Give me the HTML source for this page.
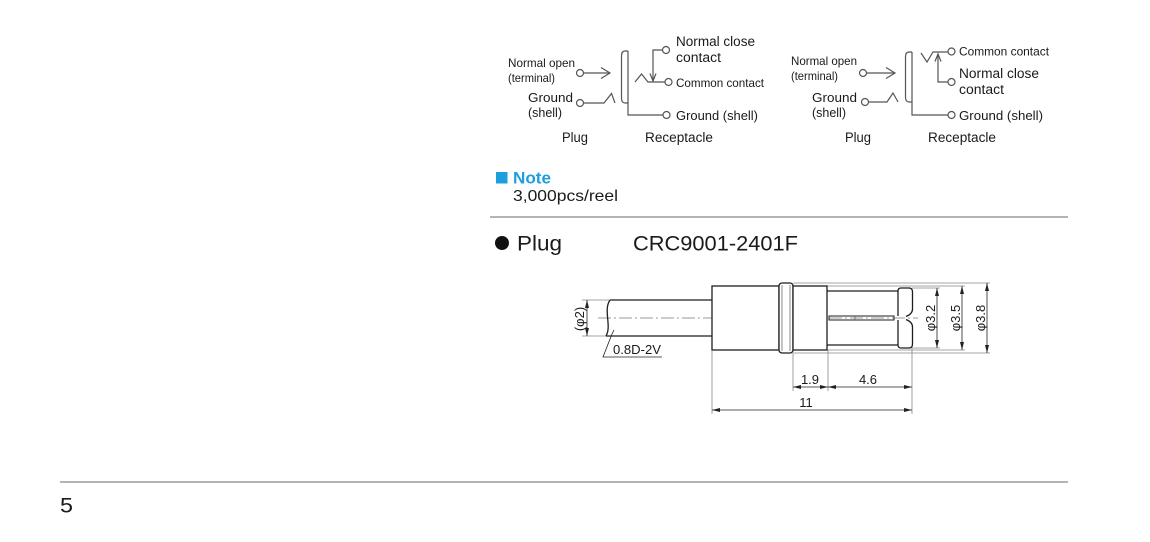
<!DOCTYPE html>
<html>
<head>
<meta charset="utf-8">
<style>
html,body{margin:0;padding:0;background:#fff;}
body{width:1150px;height:542px;overflow:hidden;}
svg{display:block;}
text{font-family:"Liberation Sans",Arial,sans-serif;fill:#1a1a1a;}
</style>
</head>
<body>
<svg width="1150" height="542" viewBox="0 0 1150 542" xmlns="http://www.w3.org/2000/svg">
<defs>
<marker id="a" viewBox="0 0 8 4" refX="8" refY="2" markerWidth="8" markerHeight="4" markerUnits="userSpaceOnUse" orient="auto-start-reverse">
<path d="M0,0 L8,2 L0,4 z" fill="#222"/>
</marker>
</defs>

<!-- ============ Diagram 1 ============ -->
<g stroke="#555" stroke-width="1.2" fill="none">
  <circle cx="580" cy="73" r="3.5" fill="#fff"/>
  <line x1="583.5" y1="73" x2="610" y2="73"/>
  <polyline points="601,67.5 610,73 601,78.5"/>
  <circle cx="580" cy="103" r="3.5" fill="#fff"/>
  <polyline points="583.5,103 604,103 611.5,93.5 615,103"/>
  <path d="M628,51 L625,51 Q621.5,51 621.5,56 L621.5,98 Q621.5,103 625,103 L628,103"/>
  <polyline points="628,51 628,115 663,115"/>
  <circle cx="666.5" cy="115" r="3.5" fill="#fff"/>
  <circle cx="666" cy="50" r="3.5" fill="#fff"/>
  <polyline points="662.5,50 653,50 653,81"/>
  <polyline points="650,73.5 653,81 656,73.5"/>
  <polyline points="635,82 641.5,74 648,82 665,82"/>
  <circle cx="668.5" cy="82" r="3.5" fill="#fff"/>
</g>
<g font-size="12">
  <text x="508" y="67" textLength="67" lengthAdjust="spacingAndGlyphs">Normal open</text>
  <text x="508" y="82" textLength="47" lengthAdjust="spacingAndGlyphs">(terminal)</text>
  <text x="528" y="102" font-size="13" textLength="45" lengthAdjust="spacingAndGlyphs">Ground</text>
  <text x="528" y="117" font-size="13" textLength="34" lengthAdjust="spacingAndGlyphs">(shell)</text>
  <text x="676" y="46" font-size="13.5" textLength="79" lengthAdjust="spacingAndGlyphs">Normal close</text>
  <text x="676" y="62" font-size="13.5" textLength="45" lengthAdjust="spacingAndGlyphs">contact</text>
  <text x="676" y="87" textLength="88" lengthAdjust="spacingAndGlyphs">Common contact</text>
  <text x="676" y="120" font-size="13" textLength="82" lengthAdjust="spacingAndGlyphs">Ground (shell)</text>
  <text x="562" y="142" font-size="13.5" textLength="26" lengthAdjust="spacingAndGlyphs">Plug</text>
  <text x="645" y="142" font-size="13.5" textLength="68" lengthAdjust="spacingAndGlyphs">Receptacle</text>
</g>

<!-- ============ Diagram 2 ============ -->
<g stroke="#555" stroke-width="1.2" fill="none">
  <circle cx="863" cy="73" r="3.5" fill="#fff"/>
  <line x1="866.5" y1="73" x2="895" y2="73"/>
  <polyline points="886,67.5 895,73 886,78.5"/>
  <circle cx="865" cy="102" r="3.5" fill="#fff"/>
  <polyline points="868.5,102 887,102 893,93 898,102"/>
  <path d="M912,52 L909,52 Q905.5,52 905.5,57 L905.5,97 Q905.5,102 909,102 L912,102"/>
  <polyline points="912,52 912,115 948,115"/>
  <circle cx="951.5" cy="115" r="3.5" fill="#fff"/>
  <polyline points="921,53 927,62 933,52 948,52"/>
  <circle cx="951.5" cy="51.5" r="3.5" fill="#fff"/>
  <polyline points="948,82 938,82 938,54"/>
  <polyline points="935,61.5 938,54 941,61.5"/>
  <circle cx="951.5" cy="82" r="3.5" fill="#fff"/>
</g>
<g font-size="12">
  <text x="791" y="65" textLength="66" lengthAdjust="spacingAndGlyphs">Normal open</text>
  <text x="791" y="80" textLength="47" lengthAdjust="spacingAndGlyphs">(terminal)</text>
  <text x="812" y="102" font-size="13" textLength="45" lengthAdjust="spacingAndGlyphs">Ground</text>
  <text x="812" y="117" font-size="13" textLength="34" lengthAdjust="spacingAndGlyphs">(shell)</text>
  <text x="959" y="55.5" textLength="90" lengthAdjust="spacingAndGlyphs">Common contact</text>
  <text x="959" y="78" font-size="13.5" textLength="80" lengthAdjust="spacingAndGlyphs">Normal close</text>
  <text x="959" y="94" font-size="13.5" textLength="45" lengthAdjust="spacingAndGlyphs">contact</text>
  <text x="959" y="120" font-size="13" textLength="84" lengthAdjust="spacingAndGlyphs">Ground (shell)</text>
  <text x="845" y="142" font-size="13.5" textLength="26" lengthAdjust="spacingAndGlyphs">Plug</text>
  <text x="928" y="142" font-size="13.5" textLength="68" lengthAdjust="spacingAndGlyphs">Receptacle</text>
</g>

<!-- ============ Note ============ -->
<rect x="496" y="172" width="11.5" height="11.5" fill="#1c9fdc"/>
<text x="513" y="183.5" font-size="16.5" font-weight="bold" style="fill:#1c9fdc" textLength="38" lengthAdjust="spacingAndGlyphs">Note</text>
<text x="513" y="201" font-size="16" textLength="105" lengthAdjust="spacingAndGlyphs">3,000pcs/reel</text>
<line x1="490" y1="217" x2="1068" y2="217" stroke="#9a9a9a" stroke-width="1.6"/>

<!-- ============ Heading ============ -->
<circle cx="502" cy="243" r="7" fill="#111"/>
<text x="517" y="250.5" font-size="21" textLength="45" lengthAdjust="spacingAndGlyphs">Plug</text>
<text x="633" y="250.5" font-size="21" textLength="165" lengthAdjust="spacingAndGlyphs">CRC9001-2401F</text>

<!-- ============ Plug drawing ============ -->
<!-- center line -->
<line x1="598" y1="318" x2="918" y2="318" stroke="#777" stroke-width="0.8" stroke-dasharray="13 3 2 3"/>

<!-- extension lines (gray) -->
<g stroke="#888" stroke-width="0.8" fill="none">
  <line x1="582" y1="300" x2="609" y2="300"/>
  <line x1="582" y1="336" x2="606" y2="336"/>
  <line x1="793" y1="283" x2="990" y2="283"/>
  <line x1="827" y1="286" x2="965" y2="286"/>
  <line x1="912" y1="288" x2="940" y2="288"/>
  <line x1="912" y1="348" x2="940" y2="348"/>
  <line x1="827" y1="350" x2="965" y2="350"/>
  <line x1="793" y1="353" x2="990" y2="353"/>
  <line x1="712" y1="351" x2="712" y2="414"/>
  <line x1="793" y1="353" x2="793" y2="391"/>
  <line x1="828" y1="350" x2="828" y2="391"/>
  <line x1="912" y1="348" x2="912" y2="414"/>
</g>

<!-- object lines -->
<g stroke="#1e1e1e" stroke-width="1.3" fill="none">
  <!-- cable -->
  <line x1="610" y1="300" x2="712" y2="300"/>
  <line x1="606" y1="336" x2="712" y2="336"/>
  <path d="M610,300 C603,310 612,326 606,336"/>
  <!-- body -->
  <rect x="712" y="286" width="67" height="64" fill="#fff"/>
  <!-- ring -->
  <rect x="779" y="283" width="14" height="70" rx="3" fill="#fff"/>
  <!-- segment 2 -->
  <rect x="793" y="286" width="34" height="64" fill="#fff"/>
  <!-- pin arms -->
  <line x1="827" y1="291" x2="898" y2="291"/>
  <line x1="827" y1="345" x2="898" y2="345"/>
  <rect x="829" y="316" width="65" height="4" stroke-width="1"/>
  <!-- flange -->
  <path d="M898,316 L898,291 Q898,288 901,288 L909,288 Q912.5,288 912.5,292 L912.5,309 Q912.5,314 906,316.5"/>
  <path d="M898,320 L898,345 Q898,348 901,348 L909,348 Q912.5,348 912.5,344 L912.5,327 Q912.5,322 906,319.5"/>
</g>
<g stroke="#555" stroke-width="0.7">
  <line x1="782" y1="285" x2="782" y2="351"/>
  <line x1="790" y1="285" x2="790" y2="351"/>
  <line x1="855" y1="316" x2="855" y2="320"/>
</g>

<!-- dimension lines -->
<g stroke="#222" stroke-width="0.8" fill="none">
  <line x1="587" y1="300" x2="587" y2="336" marker-start="url(#a)" marker-end="url(#a)"/>
  <line x1="937" y1="288" x2="937" y2="348" marker-start="url(#a)" marker-end="url(#a)"/>
  <line x1="962" y1="286" x2="962" y2="350" marker-start="url(#a)" marker-end="url(#a)"/>
  <line x1="987" y1="283" x2="987" y2="353" marker-start="url(#a)" marker-end="url(#a)"/>
  <line x1="793" y1="387" x2="828" y2="387" marker-start="url(#a)" marker-end="url(#a)"/>
  <line x1="828" y1="387" x2="912" y2="387" marker-start="url(#a)" marker-end="url(#a)"/>
  <line x1="712" y1="410" x2="912" y2="410" marker-start="url(#a)" marker-end="url(#a)"/>
  <!-- leader -->
  <polyline points="614,330 612,334 603,357 662,357"/>
</g>

<!-- dimension text -->
<g font-size="13">
  <text transform="translate(584,319) rotate(-90)" text-anchor="middle">(φ2)</text>
  <text transform="translate(935,318) rotate(-90)" text-anchor="middle">φ3.2</text>
  <text transform="translate(960,318) rotate(-90)" text-anchor="middle">φ3.5</text>
  <text transform="translate(985,318) rotate(-90)" text-anchor="middle">φ3.8</text>
  <text x="810" y="384" text-anchor="middle">1.9</text>
  <text x="868" y="384" text-anchor="middle">4.6</text>
  <text x="806" y="407" text-anchor="middle">11</text>
  <text x="613" y="354" textLength="48" lengthAdjust="spacingAndGlyphs">0.8D-2V</text>
</g>

<!-- ============ Footer ============ -->
<line x1="60" y1="482" x2="1068" y2="482" stroke="#9a9a9a" stroke-width="1.6"/>
<text x="60" y="512.5" font-size="21" textLength="13" lengthAdjust="spacingAndGlyphs">5</text>
</svg>
</body>
</html>
